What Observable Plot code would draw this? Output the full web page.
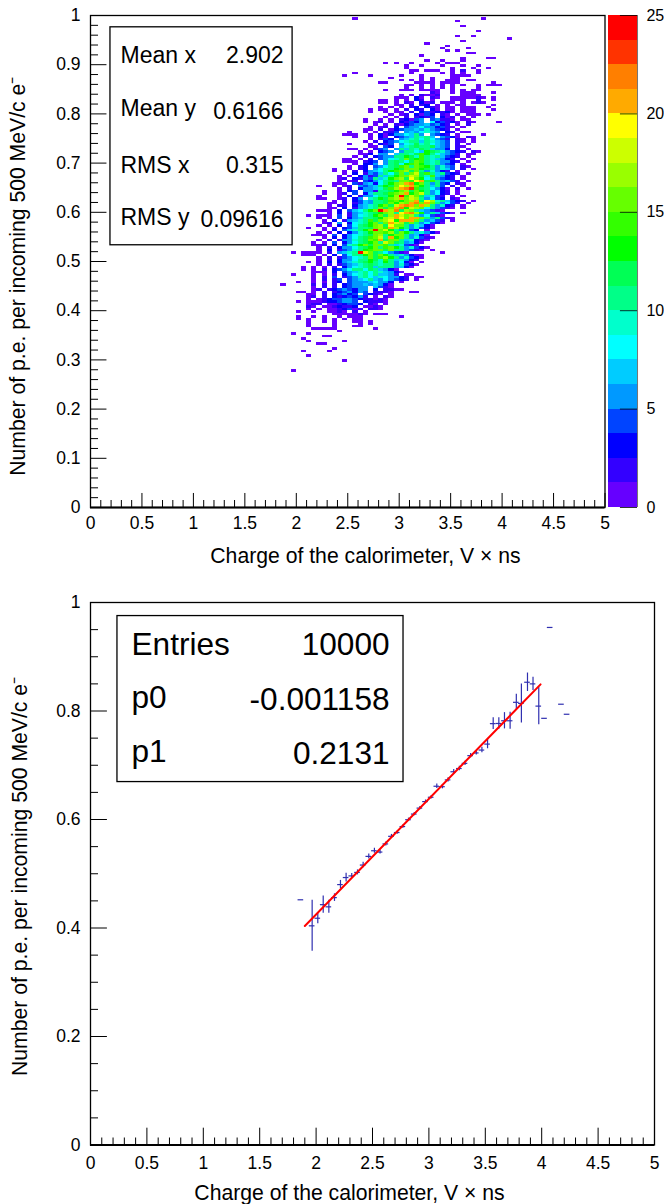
<!DOCTYPE html>
<html><head><meta charset="utf-8">
<script src="https://cdn.jsdelivr.net/npm/d3@7"></script>
<script src="https://cdn.jsdelivr.net/npm/@observablehq/plot@0.6"></script>
<style>html,body{margin:0;padding:0;background:#fff}svg{display:block}</style>
</head><body><div id="top"></div><div id="bottom"></div>
<script>
// 2D histogram: first line is y-bin 198 (bin height 0.005), each next line one bin lower.
// "col:chars" = run beginning at x-bin col (bin width 0.05), one base-36 count per bin, "." = empty.
const heatFirstRow = 198;
const heatRows = [
"51:1 76:1","71:1","","72:1","","75:1","","71:1 74:1","81:1","72:1","65:1","69:1","68:1 73:1","69:1 71:1","73:11","64:1",
"72:1 77:11","65:1 68:1 72:1","57:1 59:1 62:1 67:1 69:111","61:1 64:1 68:1 72:1 75:1","61:1 70:1 74:1 77:1",
"62:11 65:111 70:1 72:2 75:1","51:1 62:1 68:1 70:1 72:1 75:1","49:1 54:1 60:1 64:1 70:1 71:111","58:1 64:1 66:1 70:11",
"60:1 62:1 64:1 66:1 69:111 73:11","56:11 63:1111 68:1111 78:1","61:11 64:1 66:1 68:1 70:1 72:1 75:1 77:111",
"61:1 64:1 66:1 68:1 70:1 75:1","57:1 60:111 64:1111 70:1 72:1 74:11","66:21 70:1 72:1 73:11 78:1",
"60:1 62:1 64:2112 72:111 75:1","59:11 61:1 63:31.21 70:11 72:1111 75:21 78:1",
"56:11 59:1.1.32.1 66:1 70:11 72:1 75:2 78:1","56:11 59:1.21.3 65:12.1 69:11 72:1.1 75:21","59:11.2.23.1 67:1 69:1 71:11 78:1",
"56:1 58:1 60:1.23.32 66:21 69:11 72:11 74:1 77:1","54:1 56:11 59:1.2.32.3 66:31.1 70:1.1 73:11 78:1",
"54:1 57:1 59:11.2.3423.3 68:2 70:1.11 74:1","58:1 60:12.3143.34 68:21 71:1.1 74:11 77:1",
"57:1 59:1.2.2335 65:24.3 69:12 72:1 74:1","53:1 56:1.1.23145.35 66:4.2 69:21.1 73:1",
"53:1 55:12.1.32435.834231.21 79:1","55:1.1.21346574532.1.2","54:1 56:12.3.4658653421.1","53:11 56:2.134567695432.1",
"50:1 53:1 55:1.224.5768975.32.11","49:111 54:1.3135687a6.5432.1 76:1","51:1 54:1.31.3457a9a7.5431.21","54:1.243.579a8a8642.21.1",
"53:1.2.34689ba7a9764.21.1","50:1 54:1.324.689c9a8754.2.1","54:11.43.79bcabc754.21","50:11 53:1.245.5a7b9cb7653.2.1",
"52:1.1.346.5ab87dcb96432.21","52:113.56.7ba9cedb87642.11","51:1 53:2.3456abdc9eb9a7432.1","49:11 52:1.2.4589bfcdeb97532.1.1",
"49:11 51:1.234.5acb8cfeb9a6532.1","51:1.335.6bc8defdb9a643.1","50:1.23.468bcegafeda6954.21","47:1 50:1.23.58abdcfgfdcb5974.2.1",
"47:1 49:1.2.3578adeghcfb69632.1","49:1.3.2547a8cfbgiceb7a432.1","48:1.1.3524a7bdgfihc9e7532.1","48:12.3264a79dfhcjfd8a6432.1",
"48:1.12.4358acbfgejkcea6742.1","47:11 49:1.425738bdfhkmdgb5a43.21","44:1 47:1 49:12.6457bdcfjhlgdb7a4.2.1","48:1.2.35679cehkmneca8531.2.1",
"45:1 48:1.34.562abcdfhcfdb6832.1","45:1 48:12.4.37abcefhkdgia5832.1","44:1 48:1.3.2568abdhoeifc7942.1.1",
"44:11 48:12.36.9bdcfhkgihb6843.21","47:1.2.3476bacefdghkcjh9a7432.1","46:11.2.2476abcgdhfkmgkfb5842.1",
"46:1.22.3579bdgcikmlfkhb6932.1","46:11.3.2679bfcgkmdihf8b6421.1","44:111 46:1.3.478bdgokhmchfa76421",
"46:1.3.2679acdghbjkmhd5a7431.1","42:1 44:11 46:1.4.2589bdgchkifhb68421","44:1 46:1.4.357abcdhikjglkfb5a421",
"45:1.3.2679aecfhjdklkfa5742.1","45:12.5.389bdgafkihcfb68431","44:1 46:1.3.48acdfhcjgfb59731","42:1 45:1.2.347abcfhekhdb69431",
"45:1.3.479bdgofidb5843.1","44:1 46:1.3.359adfgehcgdb79531","43:11 45:1.4.3689bcfhadgfb5731","45:1.3.368acefibkdfb69421",
"44:1.2.2569bcfekcgfb79321","43:1 45:1.4.368bcdgbifca5731","43:11 45:2.3.49bdfcgfea79421","44:1.2.3568acdfbegdb69431",
"44:1.3.2469bdefgcfba6421 66:1","39:1 41:111 44:1.2.679boifca86421 68:1","41:111 45:1.3.48abdfcgdb79531 64:1",
"44:1.2.24689bfcehdb69431","44:1.2.3568abdc9eb79532","42:1 44:1.3.3579bcda9db5831 64:1","44:1.2.24679acb9ab69431",
"41:1 43:1.1.2.3689bc7aba5731","41:1 43:1.2.3468ab8ca7531","43:11 45:1.3.4679b8a97531","39:1 43:1.1.2.3589a8b7752.1 62:1",
"43:1.2.4.2469a87986532.11","43:1.2.24.4678a7685432.1","40:1 43:1.1.23.456578653.1","37:1 43:2.2.2.3465767531",
"43:1.2.2.34565.7421","43:12.23464365.3.221 60:1","40:11 43:1.2.2345354.2221 62:11","42:11.2.34534.4321.1","42:12.2.3234352.1.21",
"42:1.12344564322121","40:1 42:11 44:12334554.32221","42:122.1123443.21.1","42:21 45:1123223.1121","42:1 44:1.1123412.221",
"40:1 43:1 46:1121.2.1 53:1","47:1111121.111 56:1","40:1 43:1 45:1 48:1.1 51:11 60:1","40:1 42:1 45:1 47:1 49:1 51:11",
"42:1 45:1 47:1 51:11 54:1","42:1 47:1 52:1 54:1","42:1 47:1 51:11","43:111 46:11 55:1","48:1","39:1 42:1","45:11","41:1","42:1 49:1","44:11","",
"47:1","41:1 46:1","","42:1","","49:1","","","","39:1"
];
const palette = ["#6600ff","#3300ff","#0000ff","#0044ff","#0099ff","#00ccff","#00ffff","#00ffcc","#00ff88","#00ff55",
  "#00ff00","#33ff00","#66ff00","#99ff00","#ccff00","#ffff00","#ffaa00","#ff7f00","#ff3300","#ff0000"];
const paletteEdges = [1.25,2.5,3.75,5,6.25,7.5,8.75,10,11.25,12.5,13.75,15,16.25,17.5,18.75,20,21.25,22.5,23.75];
const colorTicks = [0,5,10,15,20,25];

const xTicks = [0,0.5,1,1.5,2,2.5,3,3.5,4,4.5,5];
const yTicksTop = [0,0.1,0.2,0.3,0.4,0.5,0.6,0.7,0.8,0.9,1];
const yTicksBottom = [0,0.2,0.4,0.6,0.8,1];
const xLabel = "Charge of the calorimeter, V × ns";
const yLabel = "Number of p.e. per incoming 500 MeV/c e⁻";

const statNamesTop = ["Mean x","Mean y","RMS x","RMS y"];
const statValuesTop = ["2.902","0.6166","0.315","0.09616"];
const statNamesBottom = ["Entries","p0","p1"];
const statValuesBottom = ["10000","-0.001158","0.2131"];

// Profile of the histogram
const profX = [1.865,1.965,2.015,2.063,2.113,2.163,2.216,2.266,2.316,2.367,2.417,2.467,2.517,2.567,2.618,2.668,2.719,2.769,2.819,2.87,2.92,2.97,3.02,3.07,3.12,3.17,3.22,3.27,3.32,3.37,3.42,3.47,3.52,3.57,3.62,3.67,3.72,3.775,3.82,3.874,3.923,3.974,4.025,4.075,4.175,4.225];
const profY = [0.452,0.404,0.418,0.443,0.439,0.456,0.48,0.493,0.496,0.5025,0.516,0.532,0.5424,0.54,0.555,0.569,0.576,0.587,0.5996,0.61,0.621,0.633,0.641,0.6613,0.6605,0.673,0.688,0.694,0.7035,0.7177,0.7227,0.728,0.739,0.7767,0.777,0.782,0.782,0.816,0.814,0.853,0.85,0.809,0.7865,0.954,0.8125,0.794];
const profErr = [0,0.047,0.01,0.016,0.012,0.007,0.0077,0.008,0.0045,0.0046,0.005,0.0046,0.0046,0.0037,0.0037,0.0035,0.003,0.003,0.003,0.003,0.003,0.003,0.003,0.004,0.004,0.004,0.004,0.004,0.004,0.004,0.004,0.005,0.0086,0.011,0.0107,0.015,0.0157,0.0148,0.036,0.017,0.012,0.0345,0,0,0,0];
const fitX = [1.9,3.99];
const fitY = [0.4037,0.8491];

// ---- tables built from the lists above
const cells = [];
heatRows.forEach((line,i)=>{
  const row = heatFirstRow - i;
  line.split(/\s+/).filter(Boolean).forEach(run=>{
    const [c,chars] = run.split(":");
    [...chars].forEach((ch,k)=>{
      if (ch===".") return;
      const col = +c + k;
      cells.push({x1:col*0.05,x2:(col+1)*0.05,y1:row*0.005,y2:(row+1)*0.005,count:parseInt(ch,36)});
    });
  });
});
const levels = palette.map((_,i)=>({lo:i*1.25,hi:(i+1)*1.25}));
const profile = profX.map((x,i)=>({x,y:profY[i],e:profErr[i]}));
const fit = fitX.map((x,i)=>({x,y:fitY[i]}));

const FONT = '"Liberation Sans", Arial, Helvetica, sans-serif';
const TICK = 17.5, TITLE = 21.2;
const fmt = d=>String(d);

function axes({xLong,xShort,yLong,yShort,yMajor,yMinor,yPad,xPad}){
  const xMinorTicks = d3.range(0,50).map(i=>i/10).filter(v=>Math.abs(v*2-Math.round(v*2))>1e-6);
  return [
    Plot.ruleX(xMinorTicks,{x:d=>d,y1:0,y2:xShort,stroke:"#000",strokeWidth:1}),
    Plot.ruleX(xTicks,{x:d=>d,y1:0,y2:xLong,stroke:"#000",strokeWidth:1}),
    Plot.ruleY(yMinor,{y:d=>d,x1:0,x2:yShort,stroke:"#000",strokeWidth:1}),
    Plot.ruleY(yMajor,{y:d=>d,x1:0,x2:yLong,stroke:"#000",strokeWidth:1}),
    Plot.frame({stroke:"#000",strokeWidth:1.3}),
    Plot.ruleY([0],{stroke:"#000",strokeWidth:2}),
    Plot.axisX(xTicks,{anchor:"bottom",tickSize:0,tickPadding:xPad,label:null,tickFormat:fmt,fontSize:TICK}),
    Plot.axisY(yMajor,{anchor:"left",tickSize:0,tickPadding:yPad,label:null,tickFormat:fmt,fontSize:TICK})
  ];
}

const topPlot = Plot.plot({
  width:664,height:575,marginLeft:90,marginRight:59.5,marginTop:15,marginBottom:68,
  style:{fontFamily:FONT,background:"#fff",color:"#000"},
  x:{domain:[0,5]},y:{domain:[0,1]},
  color:{type:"threshold",domain:paletteEdges,range:palette},
  marks:[
    Plot.rect(cells,{x1:"x1",x2:"x2",y1:"y1",y2:"y2",fill:"count",shapeRendering:"crispEdges"}),
    Plot.rect(levels,{x1:5.034,x2:5.316,y1:d=>d.lo/25,y2:d=>d.hi/25,fill:d=>d.lo+0.1,shapeRendering:"crispEdges"}),
    Plot.ruleX([5.316],{y1:0,y2:1,stroke:"#000",strokeOpacity:0.55,strokeWidth:1}),
    Plot.ruleY(colorTicks,{y:d=>d/25,x1:5.15,x2:5.316,stroke:"#000",strokeOpacity:0.8,strokeWidth:1}),
    Plot.text(colorTicks,{x:5.403,y:d=>d/25,text:fmt,textAnchor:"start",fontSize:16}),
    ...axes({xLong:0.0285,xShort:0.0142,yLong:0.16,yShort:0.078,yMajor:yTicksTop,
      yMinor:d3.range(0,50).map(i=>i/50).filter(v=>Math.abs(v*10-Math.round(v*10))>1e-6),yPad:10,xPad:9.5}),
    Plot.rect([0],{x1:0.194,x2:1.964,y1:0.533,y2:0.976,fill:"#fff",stroke:"#000",strokeWidth:1.3}),
    Plot.text(statNamesTop,{x:0.2915,y:(d,i)=>[0.9187,0.811,0.695,0.5894][i],text:d=>d,textAnchor:"start",fontSize:23}),
    Plot.text(statValuesTop,{x:1.876,y:(d,i)=>[0.9187,0.805,0.695,0.5854][i],text:d=>d,textAnchor:"end",fontSize:23}),
    Plot.text([xLabel],{x:2.672,y:-0.0996,text:d=>d,fontSize:TITLE}),
    Plot.text([yLabel],{x:-0.70,y:0.47,text:d=>d,rotate:-90,fontSize:TITLE})
  ]
});

const bottomPlot = Plot.plot({
  width:664,height:629,marginLeft:90,marginRight:10,marginTop:27,marginBottom:59.5,
  style:{fontFamily:FONT,background:"#fff",color:"#000"},
  x:{domain:[0,5]},y:{domain:[0,1]},
  marks:[
    Plot.ruleX(profile,{x:"x",y1:d=>d.y-d.e,y2:d=>d.y+d.e,stroke:"#2f2fb0",strokeWidth:1.2}),
    Plot.ruleY(profile,{y:"y",x1:d=>d.x-0.025,x2:d=>d.x+0.025,stroke:"#2f2fb0",strokeWidth:1.2}),
    Plot.line(fit,{x:"x",y:"y",stroke:"#ff0000",strokeWidth:2}),
    ...axes({xLong:0.031,xShort:0.0129,yLong:0.15,yShort:0.071,yMajor:yTicksBottom,
      yMinor:d3.range(0,20).map(i=>i/20).filter(v=>Math.abs(v*5-Math.round(v*5))>1e-6),yPad:10,xPad:11.5}),
    Plot.rect([0],{x1:0.239,x2:2.775,y1:0.669,y2:0.975,fill:"#fff",stroke:"#000",strokeWidth:1.3}),
    Plot.text(statNamesBottom,{x:0.3635,y:(d,i)=>[0.9216,0.8238,0.7242][i],text:d=>d,textAnchor:"start",fontSize:31.6}),
    Plot.text(statValuesBottom,{x:2.651,y:(d,i)=>[0.9216,0.82,0.7205][i],text:d=>d,textAnchor:"end",fontSize:31.6}),
    Plot.text([xLabel],{x:2.296,y:-0.0895,text:d=>d,fontSize:TITLE}),
    Plot.text([yLabel],{x:-0.62,y:0.495,text:d=>d,rotate:-90,fontSize:TITLE})
  ]
});

document.getElementById("top").appendChild(topPlot);
document.getElementById("bottom").appendChild(bottomPlot);
</script></body></html>
